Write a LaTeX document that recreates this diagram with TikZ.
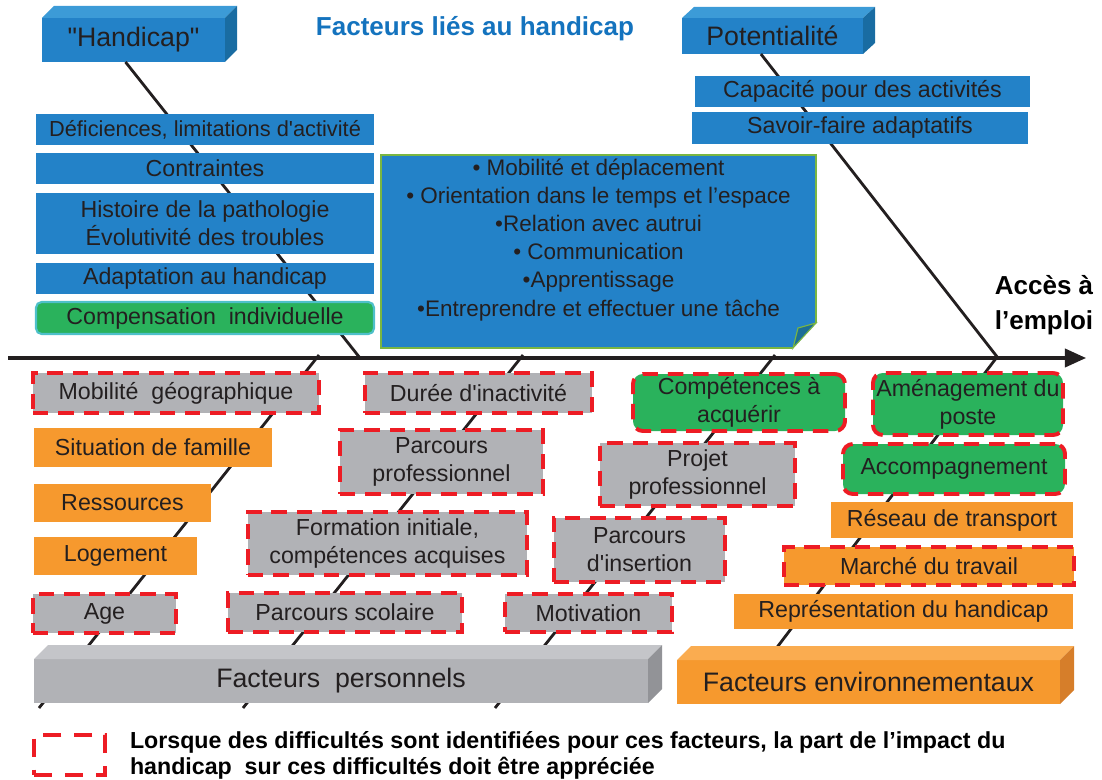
\documentclass[tikz,border=0pt]{standalone}
\usepackage{fontspec}
\newfontfamily\arialfont{Liberation Sans}
\usepackage{xcolor}
\definecolor{colorHandicap}{RGB}{35,130,200}
\definecolor{colorHandicapTop}{RGB}{60,155,215}
\definecolor{colorHandicapSide}{RGB}{25,108,162}
\definecolor{colorTitle}{RGB}{20,115,190}
\definecolor{colorPerso}{RGB}{177,178,182}
\definecolor{colorPersoTop}{RGB}{196,197,201}
\definecolor{colorPersoSide}{RGB}{146,147,151}
\definecolor{colorEnv}{RGB}{246,153,46}
\definecolor{colorEnvTop}{RGB}{250,172,80}
\definecolor{colorEnvSide}{RGB}{214,126,42}
\definecolor{colorLever}{RGB}{42,178,92}
\definecolor{colorLeverEdge}{RGB}{78,192,202}
\definecolor{colorFlag}{RGB}{237,28,36}
\definecolor{colorNote}{RGB}{122,182,66}
\definecolor{colorNoteFold}{RGB}{28,110,150}
\definecolor{colorText}{RGB}{35,31,32}
\usepackage{tikz}
\usetikzlibrary{arrows.meta, positioning}

\begin{document}
\begin{tikzpicture}[x=0.025cm, y=-0.025cm, >={Triangle[length=15pt,width=13pt]},
  every node/.style={inner sep=0pt, outer sep=0pt, align=center, text=colorText, font=\arialfont\fontsize{16.5}{20}\selectfont},
  boxsize/.style 2 args={minimum width=#1*0.025cm, minimum height=#2*0.025cm},
  flagged/.style={draw=colorFlag, line width=2.8pt, dash pattern=on 11pt off 7pt},
  lever/.style={fill=colorLever, rounded corners=7pt},
  big/.style={font=\arialfont\fontsize{19}{23}\selectfont},
  heading/.style={font=\arialfont\bfseries\fontsize{18.5}{25}\selectfont},
  bone/.style={line width=2pt, colorText}]
\useasboundingbox (0,0) rectangle (1102,780);

% facteurs lies au handicap
\node[heading, text=colorTitle] (title) at (475,29) {Facteurs liés au handicap};
\node[boxsize={183}{44}, fill=colorHandicap, big] (hand) at (133.5,40) {"Handicap"};
\fill[colorHandicapTop] (hand.north west) -- ++(12,-12) -- ++(183,0) -- (hand.north east) -- cycle;
\fill[colorHandicapSide] (hand.north east) -- ++(12,-12) -- ++(0,44) -- (hand.south east) -- cycle;
\node[boxsize={181}{36}, fill=colorHandicap, big] (pot) at (772.5,36) {Potentialité};
\fill[colorHandicapTop] (pot.north west) -- ++(12,-11) -- ++(181,0) -- (pot.north east) -- cycle;
\fill[colorHandicapSide] (pot.north east) -- ++(12,-11) -- ++(0,36) -- (pot.south east) -- cycle;

% aretes
\coordinate (handEnd) at (360,358);
\coordinate (potEnd) at (998,358);
\draw[bone] ([xshift=-0.2cm]hand.south) -- (handEnd);
\draw[bone] ([xshift=-0.29cm]pot.south) -- (potEnd);
\foreach \top/\bot [count=\i] in {319/39, 523/243, 775/495} {
  \coordinate (b\i top) at (\top,355);
  \coordinate (b\i bot) at (\bot,708);
  \draw[bone] (b\i bot) -- (b\i top);
}
\coordinate (b4top) at (997,357);
\coordinate (b4bot) at (775,650);
\draw[bone] (b4bot) -- (b4top);
\coordinate (axL) at (8,358);
\coordinate (axR) at (1086,358);
\draw[->, line width=2.2pt, colorText] (axL) -- (axR);

\node[boxsize={338}{31}, fill=colorHandicap, font=\arialfont\fontsize{15.5}{20}\selectfont] (defic) at (205,129.5) {Déficiences, limitations d'activité};
\node[boxsize={338}{31}, fill=colorHandicap, below=0.2cm of defic] (contr) {Contraintes};
\node[boxsize={338}{61}, fill=colorHandicap, below=0.225cm of contr] (hist) {Histoire de la pathologie\\Évolutivité des troubles};
\node[boxsize={338}{31}, fill=colorHandicap, below=0.225cm of hist] (adapt) {Adaptation au handicap};
\node[boxsize={338}{32}, fill=colorLever, draw=colorLeverEdge, line width=1.5pt, rounded corners=4pt, below=0.2cm of adapt] (comp) {Compensation\ \ individuelle};
\node[boxsize={335}{31}, fill=colorHandicap] (capa) at (862.5,91.5) {Capacité pour des activités};
\node[boxsize={336}{32}, fill=colorHandicap] (savoir) at (860,128) {Savoir-faire adaptatifs};

\node[boxsize={435}{193}, fill=colorHandicap, draw=colorNote, line width=0.8pt, font=\arialfont\fontsize{16}{20}\selectfont] (activ) at (598.5,251.5) {• Mobilité et déplacement\\• Orientation dans le temps et l’espace\\•Relation avec autrui\\• Communication\\•Apprentissage\\•Entreprendre et effectuer une tâche\\~};
\fill[white] ([shift={(1.5,-26)}]activ.south east) -- ([shift={(1.5,1.5)}]activ.south east) -- ([shift={(-24.5,1.5)}]activ.south east) -- cycle;
\filldraw[fill=colorNoteFold, draw=colorNote, line width=0.8pt] ([shift={(0,-25)}]activ.south east) -- ([shift={(-18,-20)}]activ.south east) -- ([shift={(-23,0)}]activ.south east) -- cycle;

\node[heading, text=black] (acces) at (1044,305) {Accès à\\l’emploi};

% facteurs personnels et environnementaux
\node[boxsize={286}{40}, fill=colorPerso, flagged] (mobil) at (176,393) {Mobilité\ \ géographique};
\node[boxsize={238}{39}, fill=colorEnv] (famil) at (153,447.5) {Situation de famille};
\node[boxsize={177}{38}, fill=colorEnv] (ress) at (122.5,503) {Ressources};
\node[boxsize={163}{38}, fill=colorEnv] (loge) at (115.5,556) {Logement};
\node[boxsize={143}{39}, fill=colorPerso, flagged] (age) at (104.5,613.5) {Age};
\node[boxsize={227}{40}, fill=colorPerso, flagged] (duree) at (478.5,393) {Durée d'inactivité};
\node[boxsize={203}{64}, fill=colorPerso, flagged] (parcpro) at (441.5,462) {Parcours\\professionnel};
\node[boxsize={279}{63}, fill=colorPerso, flagged] (forma) at (387.5,543.5) {Formation initiale,\\compétences acquises};
\node[boxsize={234}{39}, fill=colorPerso, flagged] (scol) at (345,612.5) {Parcours scolaire};
\node[boxsize={167}{38}, fill=colorPerso, flagged] (motiv) at (588.5,613) {Motivation};
\node[boxsize={212}{57}, lever, flagged] (compet) at (739,402.5) {Compétences à\\acquérir};
\node[boxsize={195}{63}, fill=colorPerso, flagged] (projet) at (697.5,474.5) {Projet\\professionnel};
\node[boxsize={171}{64}, fill=colorPerso, flagged] (insert) at (639.5,550) {Parcours\\d'insertion};
\node[boxsize={190}{62}, lever, flagged] (amenag) at (968,404) {Aménagement du\\poste};
\node[boxsize={222}{50}, lever, flagged] (accomp) at (954,469) {Accompagnement};
\node[boxsize={242}{36}, fill=colorEnv] (reseau) at (952,520) {Réseau de transport};
\node[boxsize={290}{38}, fill=colorEnv, flagged] (marche) at (929,566) {Marché du travail};
\node[boxsize={339}{35}, fill=colorEnv] (repres) at (903.5,611.5) {Représentation du handicap};

\node[boxsize={614}{44}, fill=colorPerso, big] (perso) at (341,681) {Facteurs\ \ personnels};
\fill[colorPersoTop] (perso.north west) -- ++(14,-14) -- ++(614,0) -- (perso.north east) -- cycle;
\fill[colorPersoSide] (perso.north east) -- ++(14,-14) -- ++(0,44) -- (perso.south east) -- cycle;
\node[boxsize={383}{44}, fill=colorEnv, big] (envir) at (868.5,682) {Facteurs environnementaux};
\fill[colorEnvTop] (envir.north west) -- ++(14,-14) -- ++(383,0) -- (envir.north east) -- cycle;
\fill[colorEnvSide] (envir.north east) -- ++(14,-14) -- ++(0,44) -- (envir.south east) -- cycle;

% legende
\node[boxsize={71}{40}, flagged, line width=3.4pt, dash pattern=on 13pt off 9pt] (legend) at (69.5,755) {};
\node[anchor=west, align=left, text=black, font=\arialfont\bfseries\fontsize{16.5}{18.5}\selectfont] (legendtxt) at (130,755) {Lorsque des difficultés sont identifiées pour ces facteurs, la part de l’impact du\\handicap\ \ sur ces difficultés doit être appréciée};
\end{tikzpicture}
\end{document}
